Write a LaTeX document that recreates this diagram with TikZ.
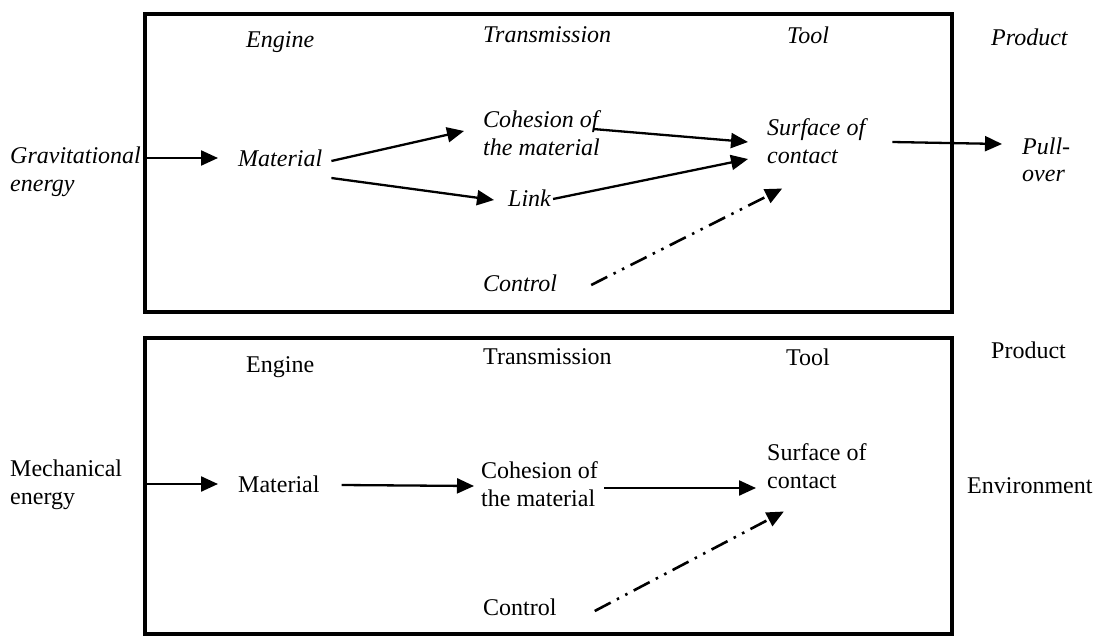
\documentclass[tikz,border=0pt]{standalone}
\usepackage{fontspec}
\setmainfont{Liberation Serif}
\usetikzlibrary{arrows.meta}
\begin{document}
\begin{tikzpicture}[x=1pt,y=-1pt,
  every node/.style={inner sep=0pt,font=\fontsize{24}{27.5}\selectfont},
  lbl/.style={anchor=west,align=left},
  it/.style={lbl,font=\fontsize{24}{27.5}\selectfont\itshape},
  boxframe/.style={draw,line width=4pt,minimum width=807pt,anchor=north west},
  arr/.style={line width=2.3pt,-{Triangle[length=17pt,width=15pt]}},
  ctrlarr/.style={arr,line width=2.6pt,dash pattern=on 18pt off 7pt on 2.5pt off 7pt on 2.5pt off 7pt}]
\useasboundingbox (0,0) rectangle (1098,635);
% frames
\node[boxframe,minimum height=298pt] (topbox) at (143,12) {};
\node[boxframe,minimum height=296pt] (botbox) at (143,336) {};
% top diagram (italic)
\node[it] (eng1) at (246,42) {Engine};
\node[it] (tra1) at (483,35) {Transmission};
\node[it] (tool1) at (787,35) {Tool};
\node[it] (prod1) at (991,37) {Product};
\node[it] (grav) at (10,172) {Gravitational\\energy};
\node[it] (mat1) at (238,158) {Material};
\node[it] (coh1) at (483,133) {Cohesion of\\the material};
\node[it] (link1) at (508,198) {Link};
\node[it] (surf1) at (767,141) {Surface of\\contact};
\node[it] (pull1) at (1022,160) {Pull-\\over};
\node[it] (ctrl1) at (483,283) {Control};
\draw[arr] (topbox.west |- mat1.west) -- ([xshift=-20pt]mat1.west);
\draw[arr] ([shift={(9,3)}]mat1.east) -- ([shift={(-19,-2)}]coh1.west);
\draw[arr] ([shift={(9,20)}]mat1.east) -- ([shift={(-14,2)}]link1.west);
\draw[arr] ([shift={(-7,-4)}]coh1.east) -- ([shift={(-19,1)}]surf1.west);
\draw[arr] ([shift={(2,1)}]link1.east) -- ([shift={(-19,18)}]surf1.west);
\draw[ctrlarr] ([shift={(34,2)}]ctrl1.east) -- ([shift={(-34,25)}]surf1.south);
\draw[arr] ([shift={(27,1)}]surf1.east) -- ([shift={(-20,-16)}]pull1.west);
% bottom diagram (upright)
\node[lbl] (eng2) at (246,367) {Engine};
\node[lbl] (tra2) at (483,357) {Transmission};
\node[lbl] (tool2) at (786,357) {Tool};
\node[lbl] (prod2) at (991,350) {Product};
\node[lbl] (mech) at (10,485) {Mechanical\\energy};
\node[lbl] (mat2) at (238,484) {Material};
\node[lbl] (coh2) at (481,484) {Cohesion of\\the material};
\node[lbl] (surf2) at (767,466) {Surface of\\contact};
\node[lbl] (env) at (967,486) {Environment};
\node[lbl] (ctrl2) at (483,607) {Control};
\draw[arr] (botbox.west |- mat2.west) -- ([xshift=-20pt]mat2.west);
\draw[arr] ([shift={(22,1)}]mat2.east) -- ([shift={(-7,2)}]coh2.west);
\draw[arr] ([shift={(6,4)}]coh2.east) -- ([shift={(-11,22)}]surf2.west);
\draw[ctrlarr] ([shift={(38,4)}]ctrl2.east) -- ([shift={(-33,23)}]surf2.south);
\end{tikzpicture}
\end{document}
